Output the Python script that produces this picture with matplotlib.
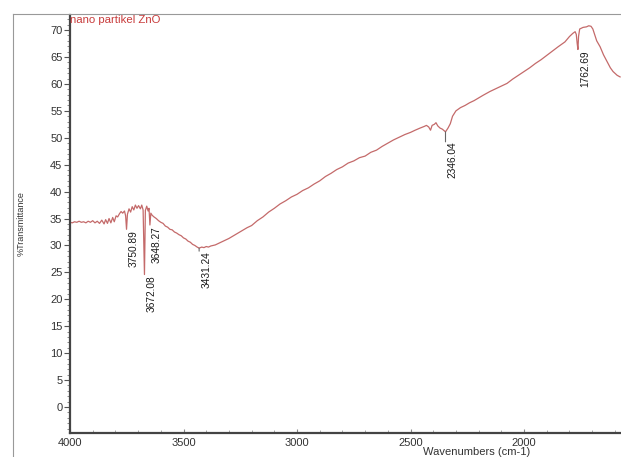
import matplotlib
matplotlib.use("Agg")
import matplotlib.pyplot as plt
from matplotlib.ticker import MultipleLocator
from matplotlib.lines import Line2D

plt.rcParams['font.family'] = ['Liberation Sans', 'DejaVu Sans']

title = "nano partikel ZnO"
x_label = "Wavenumbers (cm-1)"
y_label = "%Transmittance"

wavenumber = [
    4000, 3990, 3980, 3970, 3960, 3950, 3940, 3930, 3920, 3910, 3900, 3890, 3880,
    3870, 3860, 3850, 3843, 3835, 3828, 3820, 3812, 3805, 3797, 3790, 3782, 3775,
    3768, 3760, 3755, 3751, 3747, 3740, 3733, 3726, 3719, 3712, 3705, 3698, 3690,
    3684, 3678, 3672, 3668, 3662, 3656, 3652, 3648, 3644, 3638, 3630, 3620, 3610,
    3600, 3590, 3580, 3570, 3560, 3550, 3540, 3530, 3520, 3510, 3500, 3490, 3480,
    3470, 3460, 3450, 3440, 3431, 3420, 3410, 3400, 3390, 3380, 3370, 3360, 3350,
    3340, 3330, 3320, 3300, 3280, 3260, 3240, 3220, 3200, 3175, 3150, 3125, 3100,
    3075, 3050, 3025, 3000, 2975, 2950, 2925, 2900, 2875, 2850, 2825, 2800, 2775,
    2750, 2725, 2700, 2675, 2650, 2625, 2600, 2575, 2550, 2525, 2500, 2480, 2458,
    2440, 2430, 2420, 2412, 2405, 2395, 2388, 2380, 2370, 2360, 2346, 2335, 2325,
    2315, 2300, 2280, 2260, 2240, 2220, 2200, 2180, 2150, 2125, 2100, 2075, 2050,
    2025, 2000, 1975, 1950, 1925, 1900, 1875, 1850, 1820, 1800, 1785, 1775, 1770,
    1766, 1762.7, 1760, 1755, 1740, 1725, 1715, 1705, 1697, 1688, 1680, 1665, 1650,
    1634, 1620, 1608, 1590, 1577,
]
transmittance = [
    34.3, 34.2, 34.4, 34.3, 34.5, 34.3, 34.4, 34.2, 34.5, 34.3, 34.6, 34.2, 34.5,
    34.1, 34.7, 34.0, 34.8, 34.1, 35.0, 34.2, 35.2, 34.4, 35.5, 35.3, 35.9, 36.3,
    36.0, 36.4, 35.5, 33.0, 35.8, 36.8, 36.2, 37.2, 36.6, 37.5, 36.9, 37.4, 36.8,
    37.5, 36.6, 24.6, 36.5, 37.3, 36.4, 36.9, 33.8, 36.0, 35.6, 35.3, 35.0, 34.6,
    34.3, 34.1, 33.6, 33.4, 33.0, 32.9, 32.5, 32.3, 32.0, 31.8, 31.4, 31.2, 30.8,
    30.6, 30.2, 30.0, 29.7, 29.5, 29.7, 29.6, 29.8, 29.7, 29.9, 30.0, 30.1, 30.3,
    30.5, 30.7, 30.9, 31.3, 31.8, 32.3, 32.8, 33.3, 33.7, 34.6, 35.3, 36.2, 36.9,
    37.7, 38.3, 39.0, 39.5, 40.2, 40.7, 41.4, 42.0, 42.8, 43.4, 44.1, 44.6, 45.3,
    45.7, 46.3, 46.6, 47.3, 47.7, 48.4, 49.0, 49.6, 50.1, 50.6, 51.0, 51.4, 51.8,
    52.1, 52.3, 52.0, 51.4, 52.3, 52.5, 52.8, 52.2, 51.8, 51.6, 51.1, 51.8, 52.6,
    54.0, 55.0, 55.6, 56.0, 56.5, 56.9, 57.4, 57.9, 58.6, 59.1, 59.6, 60.1, 60.9,
    61.6, 62.3, 63.0, 63.8, 64.5, 65.3, 66.1, 66.9, 67.8, 68.8, 69.4, 69.7, 69.2,
    67.5, 66.4, 68.8, 70.2, 70.5, 70.6, 70.8, 70.7, 70.2, 69.0, 68.0, 66.9, 65.4,
    64.1, 63.0, 62.3, 61.6, 61.3,
]

peak_wn = [3750.89, 3672.08, 3648.27, 3431.24, 2346.04, 1762.69]
peak_T = [33.0, 24.6, 33.8, 29.5, 51.1, 66.4]
peak_labels = ["3750.89", "3672.08", "3648.27", "3431.24", "2346.04", "1762.69"]

x_ticks = [4000, 3500, 3000, 2500, 2000]
y_ticks = [0, 5, 10, 15, 20, 25, 30, 35, 40, 45, 50, 55, 60, 65, 70]

W, H = 621, 457
fig = plt.figure(figsize=(W / 100, H / 100), dpi=100)
ax = fig.add_axes([70 / W, 1 - 433 / H, (W - 70) / W, (433 - 15) / H])

line_color = '#c46a6a'
ax.plot(wavenumber, transmittance, color=line_color, lw=0.9)

drops = [1, 1, 1, 3, 10, 1]
for wn, t, lab, d in zip(peak_wn, peak_T, peak_labels, drops):
    if d > 2:
        ax.annotate('', xy=(wn, t), xytext=(0, -d), textcoords='offset pixels',
                    arrowprops=dict(arrowstyle='-', color='#666666', lw=0.8,
                                    shrinkA=0, shrinkB=0))
    ax.annotate(lab, xy=(wn, t), xytext=(7, -d), textcoords='offset pixels',
                rotation=90, ha='center', va='top', fontsize=7.3, color='#1a1a1a')

ax.set_xlim(4000, 1573)
ax.set_ylim(-4.83, 72.8)
ax.set_xticks(x_ticks)
ax.set_xticklabels([str(v) for v in x_ticks])
ax.set_yticks(y_ticks)
ax.set_yticklabels([str(v) for v in y_ticks])
ax.xaxis.set_minor_locator(MultipleLocator(100))
ax.yaxis.set_minor_locator(MultipleLocator(1))

for s in ['top', 'right']:
    ax.spines[s].set_visible(False)
for s in ['left', 'bottom']:
    ax.spines[s].set_color('#444444')
    ax.spines[s].set_linewidth(1.6)

ax.tick_params(axis='y', which='major', direction='out', length=4, width=0.8,
               color='#555555', labelsize=8, labelcolor='#333333', pad=1.5)
ax.tick_params(axis='y', which='minor', direction='out', length=2, width=0.6,
               color='#777777')
ax.tick_params(axis='x', which='major', direction='in', length=3, width=0.8,
               color='#888888', labelsize=8, labelcolor='#333333', pad=3.5)
ax.tick_params(axis='x', which='minor', direction='in', length=2, width=0.6,
               color='#999999')

ax.set_xlabel(x_label, fontsize=8, color='#333333')
ax.xaxis.set_label_coords((477 - 70) / (W - 70), -(452 - 433) / (433 - 15))
ax.xaxis.label.set_va('center')
ax.set_ylabel(y_label, fontsize=6.5, color='#333333')
ax.yaxis.set_label_coords((21 - 70) / (W - 70), (433 - 224) / (433 - 15))
ax.yaxis.label.set_va('center')

fig.text(70 / W, 1 - 20 / H, title, color='#c83c3c', fontsize=8.2,
         ha='left', va='center')

# outer grey frame
fig.add_artist(Line2D([13 / W, 13 / W], [0, 1 - 14 / H], transform=fig.transFigure,
                      color='#999999', lw=0.8))
fig.add_artist(Line2D([13 / W, 1], [1 - 14 / H, 1 - 14 / H], transform=fig.transFigure,
                      color='#999999', lw=0.8))

fig.savefig('out.png', dpi=100)
